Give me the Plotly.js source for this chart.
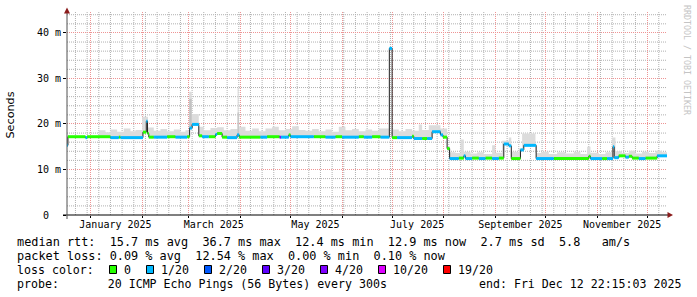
<!DOCTYPE html>
<html><head><meta charset="utf-8">
<script src="https://cdn.plot.ly/plotly-3.0.1.min.js"></script>
<style>html,body{margin:0;padding:0;background:#fff;} #chart{width:697px;height:297px;}</style>
</head><body><div id="chart"></div>
<script>
// ---------- data ----------
const rangeStart = '2024-12-17 22:15';
const rangeEnd = '2025-12-12 22:15';

const medDates = ['2024-12-17 22:15','2024-12-18 12:00','2024-12-29','2024-12-30','2025-01-13','2025-01-18','2025-01-19',
 '2025-02-01 12:00','2025-02-03 12:00','2025-02-04 06:00','2025-02-05','2025-02-08','2025-02-16','2025-02-21','2025-02-28',
 '2025-03-01 12:00','2025-03-03','2025-03-07','2025-03-09','2025-03-13','2025-03-17','2025-03-18','2025-03-21','2025-03-24',
 '2025-03-30','2025-03-31 06:00','2025-04-13','2025-04-17','2025-04-24 12:00','2025-04-25 06:00','2025-04-30','2025-05-01',
 '2025-05-15','2025-05-22','2025-05-28','2025-06-01','2025-06-11','2025-06-14','2025-06-19','2025-06-24','2025-06-29 08:00',
 '2025-07-01','2025-07-04','2025-07-13','2025-07-14','2025-07-19','2025-07-22','2025-07-25','2025-07-30','2025-07-31 12:00',
 '2025-08-03','2025-08-04 12:00','2025-08-10','2025-08-13','2025-08-14','2025-08-18','2025-08-22','2025-08-26','2025-08-30',
 '2025-09-03','2025-09-06','2025-09-09','2025-09-10 12:00','2025-09-16','2025-09-18','2025-09-25 10:00','2025-10-06',
 '2025-10-27','2025-10-28','2025-11-04','2025-11-07','2025-11-10 12:00','2025-11-11 06:00','2025-11-14','2025-11-18',
 '2025-11-20','2025-11-22','2025-11-26','2025-11-30','2025-12-07','2025-12-12 22:00'];
const medValues = [15.3,17.2,17.0,17.2,17.0,17.1,17.0,
 18.2,20.6,17.9,17.1,17.1,17.2,17.1,17.2,
 19.1,19.9,17.4,17.2,17.2,17.7,17.9,17.1,17.0,
 17.6,17.1,17.1,17.2,17.1,17.1,17.6,17.2,
 17.2,17.1,17.2,17.1,17.2,17.1,17.2,17.1,36.6,
 17.0,17.0,17.3,16.8,16.8,16.8,18.3,17.6,17.1,
 14.6,12.4,12.5,13.0,12.4,12.5,12.4,12.5,12.4,
 12.5,15.6,15.2,12.4,14.3,15.3,12.4,12.4,
 12.9,12.4,12.4,12.4,15.0,12.6,13.0,12.7,
 12.9,12.5,12.4,12.5,13.0,13.0];
const medLoss = [1,0,1,0,1,0,1,
 0,1,0,0,1,0,1,0,
 1,1,0,1,0,1,0,0,1,
 1,0,1,0,4,1,0,1,
 0,1,0,1,0,1,0,1,1,
 0,1,0,1,0,1,1,1,0,
 0,1,0,1,1,0,1,0,1,
 0,1,1,0,1,1,1,0,
 0,1,0,1,1,1,0,1,
 0,0,1,0,1,1];

const smokeDates = ['2024-12-17 22:15','2025-01-06','2025-01-10','2025-01-13','2025-01-17','2025-01-21','2025-01-25','2025-01-28',
 '2025-02-01','2025-02-04 12:00','2025-02-08','2025-02-12','2025-02-16','2025-02-20','2025-02-24','2025-02-27',
 '2025-03-01 06:00','2025-03-02 18:00','2025-03-07','2025-03-10','2025-03-14','2025-03-18','2025-03-22','2025-03-26',
 '2025-03-30 06:00','2025-03-31','2025-04-04','2025-04-08','2025-04-12','2025-04-16','2025-04-20','2025-04-24','2025-04-28',
 '2025-05-02','2025-05-06','2025-05-10','2025-05-14','2025-05-18','2025-05-22','2025-05-26','2025-05-30','2025-06-03',
 '2025-06-07','2025-06-11','2025-06-15','2025-06-19','2025-06-23','2025-06-29 08:00','2025-07-01','2025-07-05','2025-07-09',
 '2025-07-13','2025-07-17','2025-07-19','2025-07-23','2025-07-30','2025-08-03','2025-08-04 12:00','2025-08-08','2025-08-11',
 '2025-08-13','2025-08-17','2025-08-21','2025-08-25','2025-08-30','2025-09-01','2025-09-05','2025-09-09','2025-09-10 12:00',
 '2025-09-15','2025-09-17','2025-09-25','2025-09-29','2025-10-03','2025-10-08','2025-10-13','2025-10-18','2025-10-22',
 '2025-10-26','2025-10-28','2025-11-02','2025-11-06','2025-11-10','2025-11-12','2025-11-16','2025-11-20','2025-11-24',
 '2025-11-28','2025-12-02','2025-12-06','2025-12-10','2025-12-12 22:00'];
const smokeTop = [17.3,18.6,18.2,18.8,18.3,19.0,18.4,18.7,
 21.6,19.2,18.5,18.9,18.4,18.8,18.3,18.6,
 27.1,22.2,19.4,18.6,19.1,19.3,18.6,18.9,
 28.0,19.4,18.5,19.0,18.4,19.0,19.4,18.6,18.9,
 19.5,18.7,18.5,18.9,18.4,18.8,18.3,19.4,18.6,
 18.9,18.4,18.8,18.5,19.0,36.6,18.8,18.4,18.9,
 18.5,19.9,18.7,19.7,19.0,15.0,13.8,13.6,16.6,
 13.9,13.5,13.8,13.4,15.3,13.7,16.3,17.0,13.9,
 14.6,17.9,13.6,13.9,13.4,13.8,13.5,13.9,13.4,
 15.0,13.7,13.4,13.8,17.0,14.0,13.6,14.1,13.5,
 13.9,13.6,14.1,13.8,13.8];

const darkStart = ['2025-03-01 06:00','2025-03-30 06:00'];
const darkEnd = ['2025-03-02 18:00','2025-03-31 00:00'];
const darkLow = [19.0,17.6];
const darkHigh = [25.5,22.5];

const yTickVals = [0,10,20,30,40];
const yTickText = ['0  ','10 m','20 m','30 m','40 m'];
const monthLabelDates = ['2025-01-16','2025-03-16','2025-05-16','2025-07-16','2025-09-16','2025-11-16'];
const monthLabels = ['January 2025','March 2025','May 2025','July 2025','September 2025','November 2025'];

const lossLabels = ['0','1/20','2/20','3/20','4/20','10/20','19/20'];
const lossColors = ['#26ff00','#00b8ff','#0059ff','#5e00ff','#7e00ff','#dd00ff','#ff0000'];

const rttLine = 'median rtt:  15.7 ms avg  36.7 ms max  12.4 ms min  12.9 ms now  2.7 ms sd  5.8   am/s';
const lossLine = 'packet loss: 0.09 % avg  12.54 % max  0.00 % min  0.10 % now';
const lossColorTitle = 'loss color:';
const probeLine = 'probe:       20 ICMP Echo Pings (56 Bytes) every 300s';
const endLine = 'end: Fri Dec 12 22:15:03 2025';
const unitLabel = 'Seconds';
const watermark = 'RRDTOOL / TOBI OETIKER';

// ---------- geometry helpers (pixels -> paper) ----------
const L = 67, T = 12, W = 600, H = 203;
const YMAX = 44.6;
const px = x => (x - L) / W;
const py = y => (T + H - y) / H;
const nb = s => s.replace(/ /g, '\u00a0');
const MONO = 'DejaVu Sans Mono';

// ---------- traces ----------
const traces = [];
traces.push({x: medDates, y: medValues, mode: 'lines', line: {shape: 'hv', width: 0, color: 'rgba(0,0,0,0)'}, hoverinfo: 'skip', showlegend: false});
traces.push({x: smokeDates, y: smokeTop, mode: 'lines', line: {shape: 'hv', width: 0, color: 'rgba(0,0,0,0)'}, fill: 'tonexty', fillcolor: '#dcdcdc', hoverinfo: 'skip', showlegend: false});
for (let i = 0; i < darkStart.length; i++) {
  traces.push({x: [darkStart[i], darkStart[i], darkEnd[i], darkEnd[i]], y: [darkLow[i], darkHigh[i], darkHigh[i], darkLow[i]],
    mode: 'lines', line: {width: 0, color: 'rgba(0,0,0,0)'}, fill: 'toself', fillcolor: '#c2c2c2', hoverinfo: 'skip', showlegend: false});
}
traces.push({x: medDates, y: medValues, mode: 'lines', line: {shape: 'hv', width: 1, color: '#202020'}, hoverinfo: 'skip', showlegend: false});
for (let c = 0; c < lossColors.length; c++) {
  const xs = [], ys = [];
  for (let i = 0; i < medDates.length - 1; i++) {
    if (medLoss[i] !== c) continue;
    xs.push(medDates[i], medDates[i + 1], null);
    ys.push(medValues[i], medValues[i], null);
  }
  if (xs.length) traces.push({x: xs, y: ys, mode: 'lines', line: {width: 3, color: lossColors[c]}, connectgaps: false, hoverinfo: 'skip', showlegend: false});
}
traces.push({x: [rangeStart], y: [null], xaxis: 'x2', yaxis: 'y', mode: 'markers', hoverinfo: 'skip', showlegend: false});

// ---------- shapes ----------
const shapes = [];
const minorGrid = '#b0b0b0', majorGrid = '#ee9494';
const DAY = 86400000;
const t0 = Date.parse('2024-12-23T00:00:00Z'), tEnd = Date.parse('2025-12-12T22:15:00Z');
for (let t = t0; t < tEnd; t += 7 * DAY) {
  const d = new Date(t).toISOString().slice(0, 10);
  if (d.slice(8) === '01') continue;
  shapes.push({type: 'line', xref: 'x', yref: 'y', x0: d, x1: d, y0: 0, y1: YMAX, layer: 'below',
    line: {color: minorGrid, width: 1, dash: '1px,1px'}});
}
for (let v = 2; v < YMAX; v += 2) {
  if (v % 10 === 0) continue;
  shapes.push({type: 'line', xref: 'x', yref: 'y', x0: rangeStart, x1: rangeEnd, y0: v, y1: v, layer: 'below',
    line: {color: minorGrid, width: 1, dash: '1px,1px'}});
}
shapes.push({type: 'line', xref: 'paper', yref: 'paper', x0: px(63), x1: px(668), y0: py(215), y1: py(215), line: {color: '#000', width: 1}});
shapes.push({type: 'line', xref: 'paper', yref: 'paper', x0: px(67), x1: px(67), y0: py(219), y1: py(12), line: {color: '#505050', width: 1}});
shapes.push({type: 'path', xref: 'paper', yref: 'paper', path: `M ${px(673)} ${py(215)} L ${px(667.5)} ${py(212)} L ${px(667.5)} ${py(218)} Z`, fillcolor: '#8b1c1c', line: {width: 0}});
shapes.push({type: 'path', xref: 'paper', yref: 'paper', path: `M ${px(67)} ${py(7.5)} L ${px(64)} ${py(13.5)} L ${px(70)} ${py(13.5)} Z`, fillcolor: '#8b1c1c', line: {width: 0}});
const swatchX = [109, 146, 204, 262, 320, 378, 443];
const labelX = [123, 160, 218, 276, 334, 392, 457];
for (let i = 0; i < lossColors.length; i++) {
  shapes.push({type: 'rect', xref: 'paper', yref: 'paper', x0: px(swatchX[i] + 0.5), x1: px(swatchX[i] + 7.5), y0: py(265.5), y1: py(273.5),
    fillcolor: lossColors[i], line: {color: '#000', width: 1}});
}

// ---------- annotations ----------
const ann = [];
function txt(s, x, y, size, anchor) {
  ann.push({text: nb(s), xref: 'paper', yref: 'paper', x: px(x), y: py(y), xanchor: anchor || 'left', yanchor: 'middle',
    showarrow: false, font: {family: MONO, size: size, color: '#000'}, borderpad: 0});
}
txt(rttLine, 15.5, 241.5, 11.85);
txt(lossLine, 15.5, 255.5, 11.85);
txt(lossColorTitle, 15.5, 269.5, 11.6);
for (let i = 0; i < lossLabels.length; i++) txt(lossLabels[i], labelX[i], 269.5, 11.6);
txt(probeLine, 15.5, 283.5, 11.6);
txt(endLine, 682, 283.5, 11.6, 'right');
ann.push({text: unitLabel, xref: 'paper', yref: 'paper', x: px(10), y: py(115.5), textangle: -90, showarrow: false,
  font: {family: 'DejaVu Sans', size: 11.2, color: '#000'}, xanchor: 'center', yanchor: 'middle'});
ann.push({text: nb(watermark), xref: 'paper', yref: 'paper', x: px(687), y: py(60), textangle: 90, showarrow: false,
  font: {family: MONO, size: 8.3, color: '#c4c4c4'}, xanchor: 'center', yanchor: 'middle'});

// ---------- layout ----------
const layout = {
  width: 697, height: 297,
  margin: {l: L, r: 697 - L - W, t: T, b: 297 - T - H, pad: 0},
  paper_bgcolor: '#ffffff', plot_bgcolor: 'rgba(0,0,0,0)',
  showlegend: false,
  xaxis: {type: 'date', range: [rangeStart, rangeEnd], showgrid: true, gridcolor: majorGrid, griddash: '1px,1px', gridwidth: 1,
    tick0: '2025-01-01', dtick: 'M1', showticklabels: false, ticks: 'outside', ticklen: 2, tickcolor: '#000',
    showline: false, zeroline: false, fixedrange: true},
  xaxis2: {type: 'date', range: [rangeStart, rangeEnd], overlaying: 'x', anchor: 'y', side: 'bottom', tickmode: 'array',
    tickvals: monthLabelDates, ticktext: monthLabels, showgrid: false, ticks: '', zeroline: false, showline: false,
    ticklabelstandoff: 2, tickfont: {family: MONO, size: 10, color: '#000'}, fixedrange: true},
  yaxis: {range: [0, YMAX], tickmode: 'array', tickvals: yTickVals, ticktext: yTickText.map(nb), showgrid: true, gridcolor: majorGrid,
    griddash: '1px,1px', ticks: 'outside', ticklen: 3, tickcolor: '#000', zeroline: false, showline: false,
    tickfont: {family: MONO, size: 10, color: '#000'}, fixedrange: true},
  shapes: shapes,
  annotations: ann
};
Plotly.newPlot('chart', traces, layout, {staticPlot: true, displayModeBar: false});
</script>
</body></html>
